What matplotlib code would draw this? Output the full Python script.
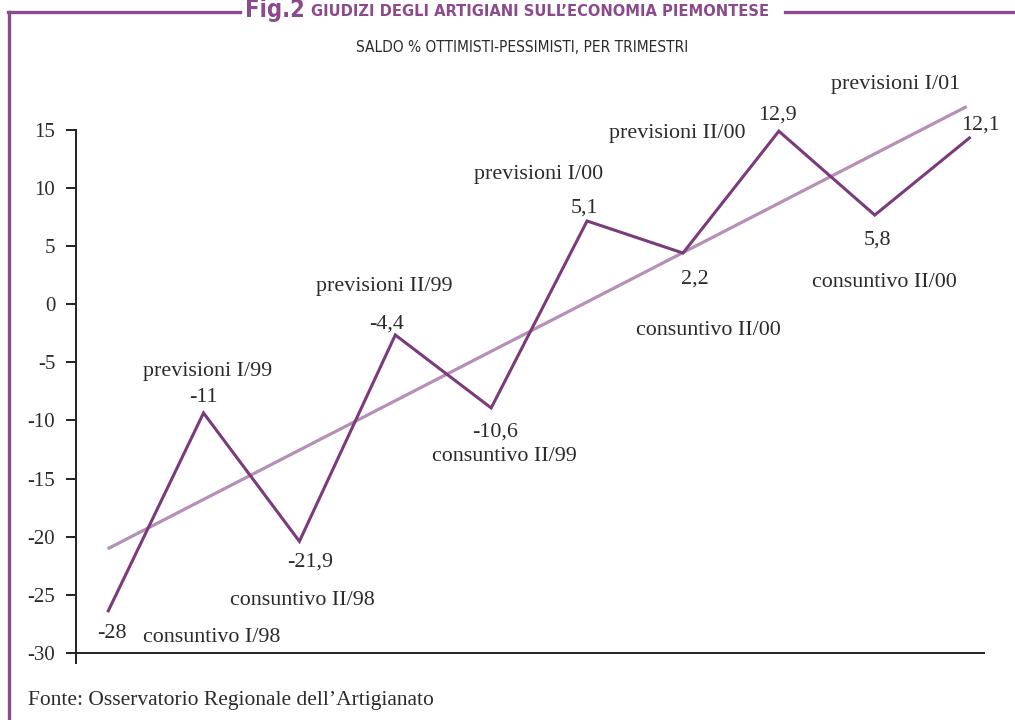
import matplotlib

matplotlib.use("Agg")
import matplotlib.pyplot as plt
from matplotlib.lines import Line2D
import numpy as np

# values as drawn on the chart (the printed labels differ slightly)
plotted = [-26.5, -9.35, -20.4, -2.64, -8.92, 7.17, 4.41, 14.9, 7.68, 14.4]
value_labels = ["-28", "-11", "-21,9", "-4,4", "-10,6", "5,1", "2,2", "12,9", "5,8", "12,1"]
period_labels = [
    "consuntivo I/98",
    "previsioni I/99",
    "consuntivo II/98",
    "previsioni II/99",
    "consuntivo II/99",
    "previsioni I/00",
    "consuntivo II/00",
    "previsioni II/00",
    "consuntivo II/00",
    "previsioni I/01",
]
y_ticks = [15, 10, 5, 0, -5, -10, -15, -20, -25, -30]

TITLE_FIG = "Fig.2"
TITLE = "GIUDIZI DEGLI ARTIGIANI SULL\u2019ECONOMIA PIEMONTESE"
SUBTITLE = "SALDO % OTTIMISTI-PESSIMISTI, PER TRIMESTRI"
SOURCE = "Fonte: Osservatorio Regionale dell\u2019Artigianato"

LINE_COLOR = "#7a3a7c"
TREND_COLOR = "#b58fb5"
FRAME_COLOR = "#8a4a8c"
TEXT_COLOR = "#2b2b2b"
SERIF = ["Liberation Serif", "DejaVu Serif"]

# label offsets in pixels from each point (value label, period label)
value_offsets = [(4, -21), (0, 15), (11, -21), (-9, 11), (4, -24), (-3, 13), (12, -26), (-1, 16), (3, -25), (10, 12)]
period_offsets = [(104, -25), (4, 41), (3, -59), (-11, 48), (13, -49), (-49, 46), (25, -77), (-102, -2), (10, -67), (-75, 52)]

W, H = 1015, 720
fig = plt.figure(figsize=(W / 100, H / 100), dpi=100)
fig.patch.set_facecolor("white")

ax = fig.add_axes([76 / W, 1 - 663 / H, (985 - 76) / W, (663 - 130) / H])
x = np.arange(len(plotted))

slope, intercept = np.polyfit(x, plotted, 1)
x_trend = np.array([x[0], x[-1] - 0.04])
ax.plot(x_trend, slope * x_trend + intercept, color=TREND_COLOR, lw=2.3,
        solid_capstyle="butt", clip_on=False, zorder=2)
ax.plot(x, plotted, color=LINE_COLOR, lw=2.2, solid_capstyle="butt",
        solid_joinstyle="miter", clip_on=False, zorder=3)

for i, y in enumerate(plotted):
    ax.annotate(value_labels[i], (x[i], y), xytext=value_offsets[i],
                textcoords="offset pixels", ha="center", va="center",
                fontsize=15.8, family=SERIF, color=TEXT_COLOR)
    ax.annotate(period_labels[i], (x[i], y), xytext=period_offsets[i],
                textcoords="offset pixels", ha="center", va="center",
                fontsize=15.8, family=SERIF, color=TEXT_COLOR)

ax.set_xlim(-0.33, 9.15)
ax.set_ylim(-30.87, 15)
ax.axhline(-30, color="#222222", lw=1.4, zorder=1)

for side in ["top", "right", "bottom"]:
    ax.spines[side].set_visible(False)
ax.spines["left"].set_color("#222222")
ax.spines["left"].set_linewidth(1.4)
ax.set_xticks([])
ax.set_yticks(y_ticks)
ax.set_yticklabels([str(t) for t in y_ticks], family=SERIF, fontsize=15, color=TEXT_COLOR)
ax.tick_params(axis="y", length=7, width=1.4, color="#222222", pad=8)
ax.set_facecolor("none")

# frame with title breaking the top border
fig.add_artist(Line2D([9 / W, 9 / W], [0, 1 - 12 / H], color=FRAME_COLOR, lw=2.4,
                      transform=fig.transFigure))
fig.add_artist(Line2D([8 / W, 240 / W], [1 - 12 / H, 1 - 12 / H], color=FRAME_COLOR, lw=2.4,
                      transform=fig.transFigure))
fig.add_artist(Line2D([785 / W, 1], [1 - 12 / H, 1 - 12 / H], color=FRAME_COLOR, lw=2.4,
                      transform=fig.transFigure))

fig.text(305 / W, 1 - 10 / H, TITLE_FIG, ha="right", va="center", fontsize=17,
         fontweight="bold", fontstretch="condensed", color=FRAME_COLOR, family="DejaVu Sans")
fig.text(311 / W, 1 - 12 / H, TITLE, ha="left", va="center", fontsize=11.8,
         fontweight="bold", fontstretch="condensed", color=FRAME_COLOR, family="DejaVu Sans")
fig.text(522 / W, 1 - 47 / H, SUBTITLE, ha="center", va="center", fontsize=11.1,
         fontstretch="condensed", color=TEXT_COLOR, family="DejaVu Sans")
fig.text(28 / W, 1 - 700 / H, SOURCE, ha="left", va="center", fontsize=15.5,
         family=SERIF, color=TEXT_COLOR)

fig.savefig("out.png", dpi=100)
